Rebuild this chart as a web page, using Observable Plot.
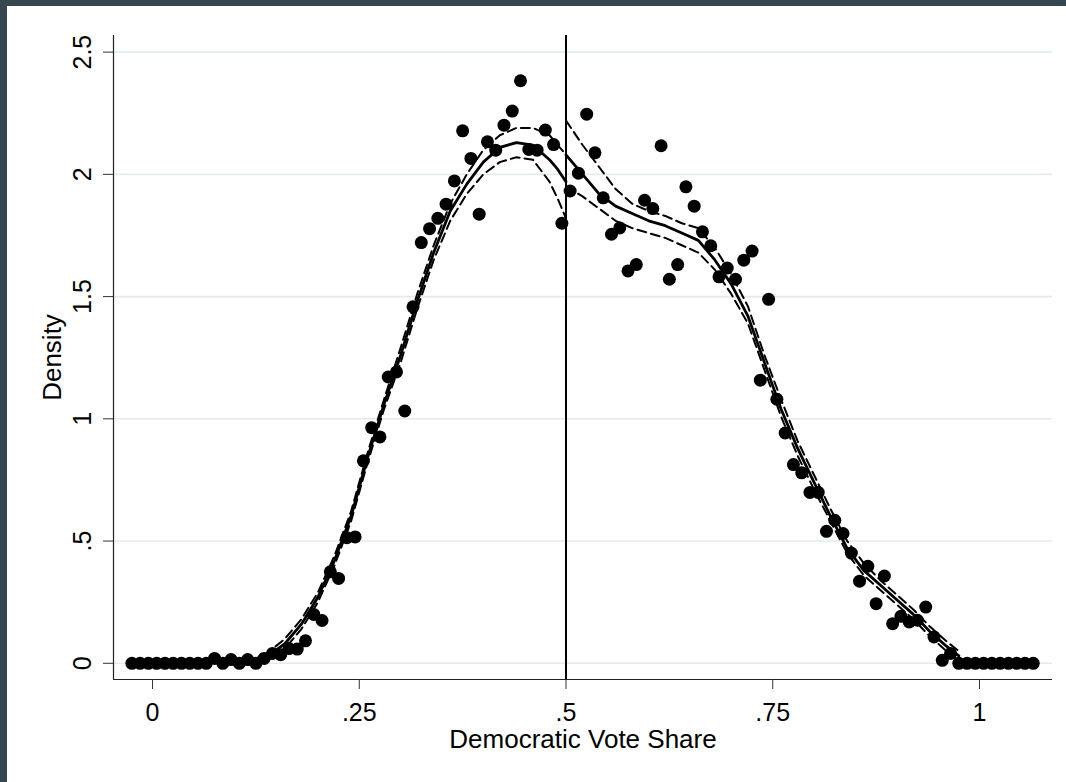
<!DOCTYPE html>
<html><head><meta charset="utf-8">
<script src="https://cdn.jsdelivr.net/npm/d3@7"></script>
<script src="https://cdn.jsdelivr.net/npm/@observablehq/plot@0.6"></script>
<style>
html,body{margin:0;padding:0;background:#37474f;width:1066px;height:782px;overflow:hidden}
#panel{position:absolute;left:7px;top:6px;width:1059px;height:776px;background:#fff}
</style></head><body><div id="panel"></div>
<script>
// Histogram bin centers (Democratic vote share) and bin densities
const binCenters = [-0.025,-0.015,-0.005,0.005,0.015,0.025,0.035,0.045,0.055,0.065,
 0.075,0.085,0.095,0.105,0.115,0.125,0.135,0.145,0.155,0.165,
 0.175,0.185,0.195,0.205,0.215,0.225,0.235,0.245,0.255,0.265,
 0.275,0.285,0.295,0.305,0.315,0.325,0.335,0.345,0.355,0.365,
 0.375,0.385,0.395,0.405,0.415,0.425,0.435,0.445,0.455,0.465,
 0.475,0.485,0.495,0.505,0.515,0.525,0.535,0.545,0.555,0.565,
 0.575,0.585,0.595,0.605,0.615,0.625,0.635,0.645,0.655,0.665,
 0.675,0.685,0.695,0.705,0.715,0.725,0.735,0.745,0.755,0.765,
 0.775,0.785,0.795,0.805,0.815,0.825,0.835,0.845,0.855,0.865,
 0.875,0.885,0.895,0.905,0.915,0.925,0.935,0.945,0.955,0.965,
 0.975,0.985,0.995,1.005,1.015,1.025,1.035,1.045,1.055,1.065];
const binDensity = [0,0,0,0,0,0,0,0,0,0,
 0.02,0,0.015,0,0.015,0,0.02,0.04,0.035,0.06,
 0.058,0.092,0.2,0.175,0.374,0.347,0.514,0.517,0.828,0.964,
 0.926,1.171,1.192,1.032,1.458,1.721,1.778,1.82,1.878,1.973,
 2.178,2.065,1.837,2.133,2.099,2.201,2.259,2.383,2.102,2.099,
 2.181,2.122,1.80,1.932,2.005,2.246,2.088,1.904,1.755,1.781,
 1.605,1.631,1.894,1.86,2.117,1.571,1.631,1.949,1.87,1.765,
 1.708,1.581,1.617,1.571,1.649,1.686,1.158,1.489,1.08,0.942,
 0.813,0.779,0.699,0.699,0.54,0.585,0.531,0.451,0.336,0.397,
 0.244,0.357,0.162,0.192,0.169,0.176,0.23,0.108,0.012,0.04,
 0,0,0,0,0,0,0,0,0,0];

// Left-of-cutoff local fit with confidence band
const leftX   = [0.12,0.14,0.16,0.18,0.20,0.22,0.24,0.26,0.28,0.30,0.32,0.34,0.36,0.38,0.40,0.42,0.44,0.46,0.48,0.49,0.50];
const leftFit = [0.00,0.03,0.08,0.16,0.27,0.42,0.60,0.84,1.06,1.26,1.48,1.68,1.85,1.96,2.05,2.11,2.13,2.12,2.06,2.02,1.97];
const leftLo  = [-0.01,0.015,0.06,0.14,0.25,0.40,0.58,0.82,1.04,1.23,1.45,1.65,1.81,1.92,2.00,2.05,2.07,2.06,1.97,1.90,1.82];
const leftHi  = [0.01,0.045,0.10,0.18,0.29,0.44,0.62,0.86,1.08,1.29,1.51,1.71,1.88,2.00,2.10,2.16,2.19,2.19,2.16,2.12,2.08];

// Right-of-cutoff local fit with confidence band
const rightX   = [0.50,0.52,0.54,0.56,0.58,0.60,0.62,0.64,0.66,0.68,0.70,0.72,0.74,0.76,0.78,0.80,0.82,0.84,0.86,0.88,0.90,0.92,0.94,0.96,0.975];
const rightFit = [2.08,2.00,1.92,1.87,1.84,1.81,1.79,1.76,1.73,1.65,1.55,1.42,1.23,1.04,0.88,0.74,0.60,0.47,0.38,0.32,0.26,0.20,0.13,0.07,0.03];
const rightLo  = [1.95,1.91,1.86,1.81,1.78,1.76,1.74,1.71,1.68,1.61,1.51,1.39,1.20,1.01,0.85,0.71,0.58,0.45,0.36,0.30,0.24,0.18,0.11,0.05,0.01];
const rightHi  = [2.22,2.12,2.03,1.94,1.88,1.85,1.83,1.80,1.78,1.70,1.59,1.46,1.26,1.08,0.91,0.77,0.63,0.50,0.41,0.34,0.28,0.22,0.15,0.09,0.05];

const cutoff = [0.5];
const xTicks = [0, 0.25, 0.5, 0.75, 1];
const xTickLabels = ["0", ".25", ".5", ".75", "1"];
const yTicks = [0, 0.5, 1, 1.5, 2, 2.5];
const yTickLabels = ["0", ".5", "1", "1.5", "2", "2.5"];
const xTitle = "Democratic Vote Share";
const yTitle = "Density";
const xDomain = [-0.0472, 1.0883];
const yDomain = [-0.0663, 2.568];

const points = binCenters.map((x, i) => ({x, y: binDensity[i]}));
const left = leftX.map((x, i) => ({x, fit: leftFit[i], lo: leftLo[i], hi: leftHi[i]}));
const right = rightX.map((x, i) => ({x, fit: rightFit[i], lo: rightLo[i], hi: rightHi[i]}));

const font = "'Liberation Sans', Arial, sans-serif";
const dash = "9,5";

const chart = Plot.plot({
  width: 1059, height: 776,
  marginLeft: 106, marginRight: 14, marginTop: 29, marginBottom: 103,
  style: {fontFamily: font, background: "white", color: "black", overflow: "visible"},
  x: {domain: xDomain, label: null},
  y: {domain: yDomain, label: null},
  marks: [
    Plot.gridY(yTicks, {stroke: "#e3ebee", strokeOpacity: 1, strokeWidth: 1.6}),
    Plot.line(left, {x: "x", y: "fit", stroke: "black", strokeWidth: 2.8}),
    Plot.line(left, {x: "x", y: "lo", stroke: "black", strokeWidth: 2, strokeDasharray: dash}),
    Plot.line(left, {x: "x", y: "hi", stroke: "black", strokeWidth: 2, strokeDasharray: dash}),
    Plot.line(right, {x: "x", y: "fit", stroke: "black", strokeWidth: 2.8}),
    Plot.line(right, {x: "x", y: "lo", stroke: "black", strokeWidth: 2, strokeDasharray: dash}),
    Plot.line(right, {x: "x", y: "hi", stroke: "black", strokeWidth: 2, strokeDasharray: dash}),
    Plot.dot(points, {x: "x", y: "y", r: 6.5, fill: "black", stroke: "none"}),
    Plot.ruleX(cutoff, {stroke: "black", strokeWidth: 2}),
    Plot.ruleX([xDomain[0]], {stroke: "#222", strokeWidth: 1.2}),
    Plot.ruleY([yDomain[0]], {stroke: "#222", strokeWidth: 1.2}),
    Plot.axisX(xTicks, {tickSize: 10, tickPadding: 14, stroke: "#333", fontSize: 25,
      tickFormat: d => xTickLabels[xTicks.indexOf(d)], label: null}),
    Plot.axisY(yTicks, {tickSize: 10, tickPadding: 13, tickRotate: -90, stroke: "#333", fontSize: 25,
      tickFormat: d => yTickLabels[yTicks.indexOf(d)], label: null}),
    Plot.text([xTitle], {frameAnchor: "bottom", dy: 68, lineAnchor: "bottom", fontSize: 26, fill: "black"}),
    Plot.text([yTitle], {frameAnchor: "left", dx: -53, rotate: -90, lineAnchor: "bottom", textAnchor: "middle", fontSize: 26, fill: "black"})
  ]
});
document.getElementById("panel").appendChild(chart);
</script></body></html>
